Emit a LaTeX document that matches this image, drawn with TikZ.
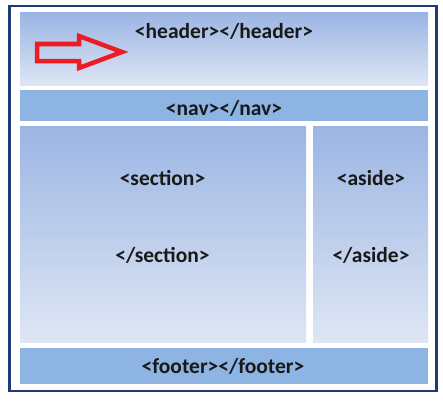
\documentclass[tikz,border=0pt]{standalone}
\usepackage{fontspec}
\setmainfont{Carlito}
\begin{document}
\begin{tikzpicture}[x=1pt,y=-1pt,
  grad/.style={top color=topblue,bottom color=botblue,draw=none},
  solid/.style={fill=barblue,draw=none},
  lbl/.style={font=\bfseries\fontsize{21.5}{24}\selectfont,text=black!90,inner sep=0pt,anchor=base}]
\definecolor{topblue}{HTML}{9BB5E3}
\definecolor{botblue}{HTML}{DEE6F4}
\definecolor{barblue}{HTML}{8EB4E3}
\definecolor{navy}{HTML}{1F3C72}
\definecolor{arrowred}{HTML}{EC1C24}
\useasboundingbox (0,0) rectangle (443,404);
\fill[white] (0,0) rectangle (443,404);
\draw[navy,line width=2.5pt,fill=white] (9.5,6) rectangle (436.5,391);
\fill[grad] (20,13) rectangle (428,85);
\fill[solid] (20,90) rectangle (428,120.5);
\fill[grad] (20,126) rectangle (306,342);
\fill[grad] (313,126) rectangle (428,342);
\fill[solid] (20,348) rectangle (428,384);
\node[lbl] (header) at (224,38) {<header></header>};
\node[lbl] (nav) at (224,115.5) {<nav></nav>};
\node[lbl] (secopen) at (162.5,185) {<section>};
\node[lbl] (secclose) at (162.5,262) {</section>};
\node[lbl] (asopen) at (371,185) {<aside>};
\node[lbl] (asclose) at (371,262) {</aside>};
\node[lbl] (footer) at (223,373.5) {<footer></footer>};
\draw[arrowred,line width=4.5pt,line join=miter] (37,44) -- (79,44) -- (79,36) -- (122,52) -- (79,68) -- (79,61) -- (37,61) -- cycle;
\end{tikzpicture}
\end{document}
